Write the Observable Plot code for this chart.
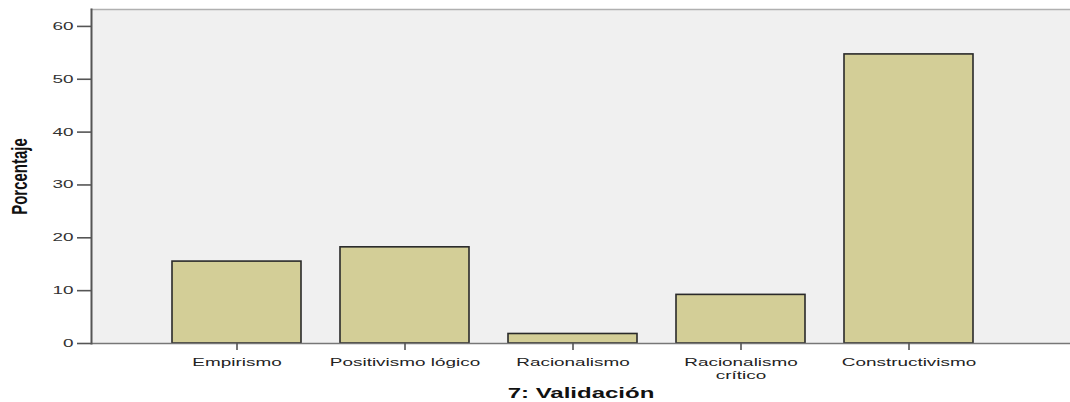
<!DOCTYPE html>
<html><head><meta charset="utf-8">
<script src="https://cdn.jsdelivr.net/npm/d3@7"></script>
<script src="https://cdn.jsdelivr.net/npm/@observablehq/plot@0.6"></script>
<style>body{margin:0;background:#fff;font-family:"Liberation Sans",Arial,sans-serif}</style>
</head><body><div id="chart"></div>
<script>
const categories = ["Empirismo", "Positivismo lógico", "Racionalismo", "Racionalismo crítico", "Constructivismo"];
const tickLabels = ["Empirismo", "Positivismo lógico", "Racionalismo", "Racionalismo\ncrítico", "Constructivismo"];
const percentages = [15.5, 18.2, 1.8, 9.2, 54.7];
const yTicks = [0, 10, 20, 30, 40, 50, 60];
const xTitle = "7: Validación";
const yTitle = "Porcentaje";

const data = categories.map((c, i) => ({categoria: c, porcentaje: percentages[i]}));

const chart = Plot.plot({
  width: 1070, height: 402,
  marginLeft: 91, marginRight: 0, marginTop: 9, marginBottom: 59,
  style: {fontFamily: "'Liberation Sans', Arial, sans-serif", background: "#fff"},
  x: {domain: categories, range: [91, 1054], paddingInner: 0.235, paddingOuter: 0.48},
  y: {domain: [0, 63.2]},
  marks: [
    Plot.frame({fill: "#f0f0f0", stroke: null}),
    Plot.frame({anchor: "top", stroke: "#b0b0b0", strokeWidth: 1.5}),
    Plot.barY(data, {x: "categoria", y: "porcentaje", fill: "#d3ce97", stroke: "#2a2a2a", strokeWidth: 1.6}),
    Plot.ruleY([0], {stroke: "#777", strokeWidth: 1.5}),
    Plot.frame({anchor: "left", stroke: "#555", strokeWidth: 2}),
    Plot.axisY({ticks: yTicks, tickSize: 14, tickPadding: 4, fontSize: 11, stroke: "#555", strokeWidth: 1.6, fill: "#333", label: null}),
    Plot.axisX({tickSize: 7, tickPadding: 6, fontSize: 11, stroke: "#555", strokeWidth: 1.6, fill: "#222", label: null, lineHeight: 1.2,
      tickFormat: d => tickLabels[categories.indexOf(d)]}),
    Plot.text([yTitle], {frameAnchor: "left", textAnchor: "middle", dx: -71, rotate: -90, fontSize: 15, fontWeight: "bold", fill: "#111", text: d => d}),
    Plot.text([xTitle], {frameAnchor: "bottom", dy: 54, lineAnchor: "bottom", fontSize: 15, fontWeight: "bold", fill: "#111", text: d => d})
  ]
});

chart.querySelectorAll("text").forEach(t => {
  let tr = t.getAttribute("transform");
  if (!tr) {
    const x = t.getAttribute("x") || 0, y = t.getAttribute("y") || 0;
    t.removeAttribute("x"); t.removeAttribute("y");
    tr = `translate(${x},${y})`;
  }
  const isTitle = t.getAttribute("font-weight") === "bold" || (t.parentNode && t.parentNode.getAttribute("font-weight") === "bold");
  if (tr.includes("rotate")) t.setAttribute("transform", tr + " scale(1,1.45)");
  else t.setAttribute("transform", tr + (isTitle ? " scale(1.6,1)" : " scale(1.72,1)"));
});
document.getElementById("chart").appendChild(chart);
</script></body></html>
